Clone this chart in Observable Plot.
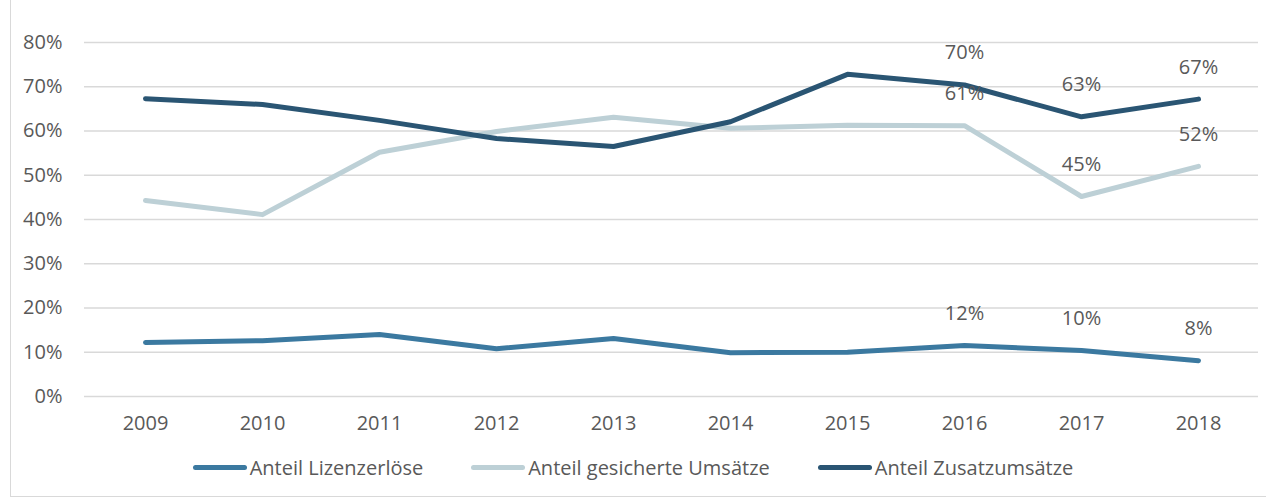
<!DOCTYPE html>
<html>
<head>
<meta charset="utf-8">
<script src="https://cdn.jsdelivr.net/npm/d3@7"></script>
<script src="https://cdn.jsdelivr.net/npm/@observablehq/plot@0.6"></script>
<style>
  html, body { margin: 0; padding: 0; background: #fff; }
  #wrap { position: relative; width: 1266px; height: 500px; overflow: hidden; font-family: "Open Sans", sans-serif; }
  #frame { position: absolute; left: 10px; top: -2px; width: 1270px; height: 499px; border: 1px solid #d9d9d9; box-sizing: border-box; }
  #chart { position: absolute; left: 0; top: 0; }
  #legend { position: absolute; left: 0; width: 1266px; top: 454px; display: flex; justify-content: center; gap: 48px; font-size: 20px; color: #595959; }
  .item { display: flex; align-items: center; gap: 3px; }
  .sw { width: 54px; height: 5px; border-radius: 3px; }
</style>
</head>
<body>
<div id="wrap">
  <div id="frame"></div>
  <div id="chart"></div>
  <div id="legend"></div>
</div>
<script>
const years = ["2009","2010","2011","2012","2013","2014","2015","2016","2017","2018"];
const seriesNames = ["Anteil Lizenzerlöse", "Anteil gesicherte Umsätze", "Anteil Zusatzumsätze"];
const lizenz   = [0.122, 0.126, 0.140, 0.108, 0.131, 0.099, 0.100, 0.115, 0.104, 0.081];
const gesichert= [0.443, 0.411, 0.552, 0.599, 0.631, 0.606, 0.613, 0.612, 0.452, 0.520];
const zusatz   = [0.673, 0.660, 0.624, 0.583, 0.565, 0.621, 0.728, 0.704, 0.632, 0.672];
const labelYears = ["2016","2017","2018"];
const colors = ["#3b79a0", "#bdd0d6", "#2a5573"];
const yTicks = [0,0.1,0.2,0.3,0.4,0.5,0.6,0.7,0.8];

const seriesValues = [lizenz, gesichert, zusatz];
const rows = [];
seriesNames.forEach((s, i) => years.forEach((y, j) => rows.push({series: s, year: y, value: seriesValues[i][j]})));
const labelRows = rows.filter(d => labelYears.includes(d.year));

const plot = Plot.plot({
  width: 1266,
  height: 445,
  marginLeft: 84,
  marginRight: 8,
  marginTop: 42,
  marginBottom: 49,
  style: { fontFamily: "'Open Sans', sans-serif", fontSize: "20px", color: "#595959", background: "transparent" },
  x: { type: "point", domain: years, padding: 0.5, label: null },
  y: { domain: [0, 0.8], label: null },
  color: { domain: seriesNames, range: colors },
  marks: [
    Plot.gridY(yTicks, { stroke: "#d9d9d9", strokeOpacity: 1, strokeWidth: 1.5 }),
    Plot.axisY(yTicks, { tickSize: 0, tickPadding: 22, tickFormat: d => Math.round(d * 100) + "%", fill: "#595959", fontSize: 20, label: null }),
    Plot.axisX({ tickSize: 0, tickPadding: 19, fill: "#595959", fontSize: 20, label: null }),
    Plot.line(rows, { x: "year", y: "value", z: "series", stroke: "series", strokeWidth: 5, strokeLinecap: "round", strokeLinejoin: "round" }),
    Plot.text(labelRows, { x: "year", y: "value", text: d => Math.round(d.value * 100) + "%", dy: -32, fill: "#595959", fontSize: 20 })
  ]
});
document.getElementById("chart").appendChild(plot);

const legend = document.getElementById("legend");
seriesNames.forEach((s, i) => {
  const it = document.createElement("div");
  it.className = "item";
  const sw = document.createElement("div");
  sw.className = "sw";
  sw.style.background = colors[i];
  const t = document.createElement("span");
  t.textContent = s;
  it.appendChild(sw); it.appendChild(t);
  legend.appendChild(it);
});
</script>
</body>
</html>
